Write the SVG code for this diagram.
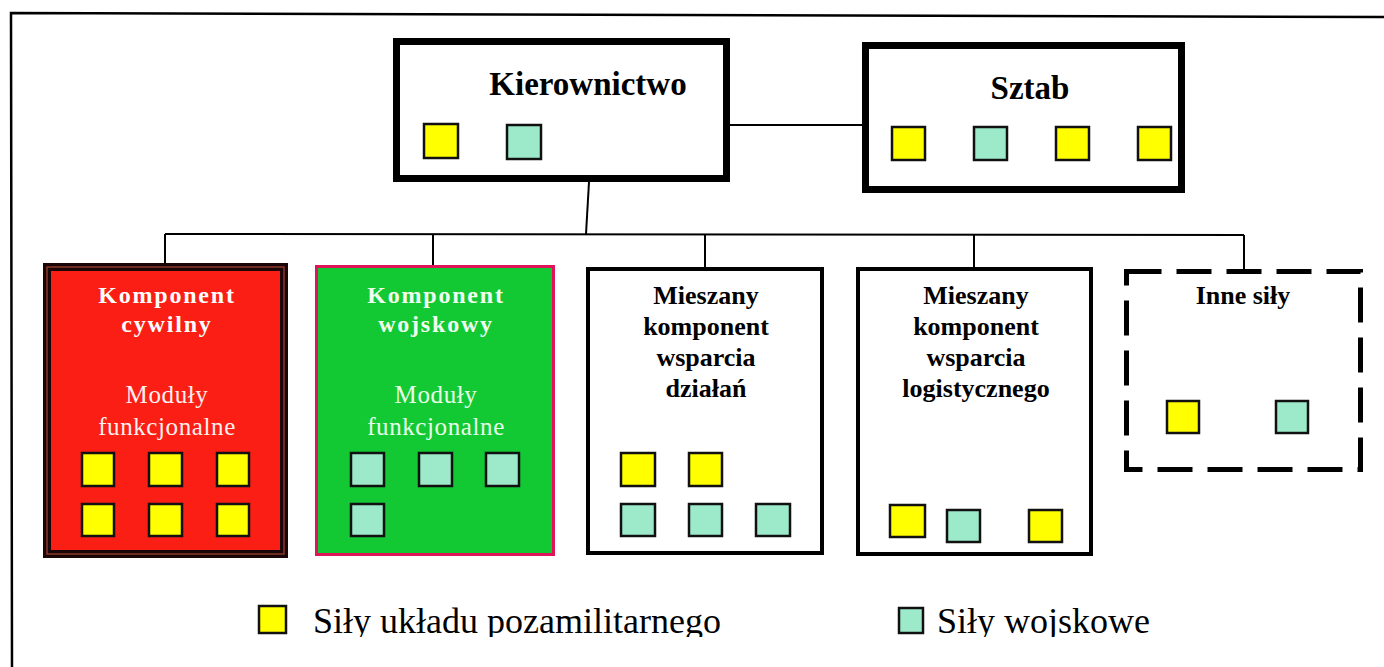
<svg xmlns="http://www.w3.org/2000/svg" width="1384" height="667" viewBox="0 0 1384 667">
  <defs>
    <clipPath id="legendClip">
      <rect x="0" y="590" width="1384" height="47"/>
    </clipPath>
  </defs>
  <style>
    .title { font-family: "Liberation Serif", "Times New Roman", serif; font-weight: bold; fill: #000; text-anchor: middle; }
    .big { font-size: 33px; }
    .mid { font-size: 26px; }
    .comp { font-family: "Liberation Serif", "Times New Roman", serif; font-weight: bold; font-size: 24px; letter-spacing: 1.8px; text-anchor: middle; }
    .mod { font-family: "Liberation Serif", "Times New Roman", serif; font-size: 25px; letter-spacing: 0.6px; text-anchor: middle; }
    .legend { font-family: "Liberation Serif", "Times New Roman", serif; font-size: 36px; fill: #000; }
    .box { fill: #fff; stroke: #000; }
    .y { fill: #ffff00; stroke: #111; stroke-width: 2.5; }
    .t { fill: #9deacb; stroke: #111; stroke-width: 2.5; }
    .link { fill: none; stroke: #000; stroke-width: 2; }
  </style>

  <rect width="1384" height="667" fill="#fff"/>

  <!-- outer frame -->
  <path d="M 12 667 L 11 13 L 1384 17" fill="none" stroke="#000" stroke-width="2.5"/>

  <!-- connectors -->
  <g id="connectors">
    <line class="link" x1="730" y1="125" x2="862" y2="125"/>
    <line class="link" x1="589" y1="182" x2="586" y2="234"/>
    <line class="link" x1="165" y1="234" x2="1244" y2="235"/>
    <line class="link" x1="165" y1="234" x2="165" y2="263"/>
    <line class="link" x1="433" y1="234" x2="433" y2="265"/>
    <line class="link" x1="705" y1="234" x2="705" y2="267"/>
    <line class="link" x1="974" y1="235" x2="974" y2="267"/>
    <line class="link" x1="1244" y1="235" x2="1244" y2="270"/>
  </g>

  <!-- Kierownictwo -->
  <g id="kierownictwo">
    <rect class="box" x="396.5" y="41.5" width="330" height="137" stroke-width="7"/>
    <text class="title big" x="588" y="95">Kierownictwo</text>
    <rect class="y" x="424" y="124" width="34" height="34"/>
    <rect class="t" x="507" y="125" width="34" height="34"/>
  </g>

  <!-- Sztab -->
  <g id="sztab">
    <rect class="box" x="865.5" y="45.5" width="316" height="144" stroke-width="7"/>
    <text class="title big" x="1030" y="99">Sztab</text>
    <rect class="y" x="892" y="127" width="33" height="33"/>
    <rect class="t" x="974" y="127" width="33" height="33"/>
    <rect class="y" x="1056" y="127" width="33" height="33"/>
    <rect class="y" x="1138" y="127" width="33" height="33"/>
  </g>

  <!-- Komponent cywilny -->
  <g id="komponent-cywilny">
    <rect x="47" y="267" width="237" height="287" fill="#fa1e14" stroke="#1a0606" stroke-width="8"/>
    <rect x="47" y="267" width="237" height="287" fill="none" stroke="#8a3a2a" stroke-width="1.5"/>
    <text class="comp" x="167" y="303" fill="#fff">Komponent</text>
    <text class="comp" x="167" y="332" fill="#fff">cywilny</text>
    <text class="mod" x="167" y="403" fill="#fff0ee">Moduły</text>
    <text class="mod" x="167" y="435" fill="#fff0ee">funkcjonalne</text>
    <rect class="y" x="82" y="453" width="32" height="33" stroke-width="3"/>
    <rect class="y" x="149" y="453" width="33" height="33" stroke-width="3"/>
    <rect class="y" x="217" y="453" width="32" height="33" stroke-width="3"/>
    <rect class="y" x="82" y="504" width="32" height="32" stroke-width="3"/>
    <rect class="y" x="149" y="504" width="33" height="32" stroke-width="3"/>
    <rect class="y" x="217" y="504" width="32" height="32" stroke-width="3"/>
  </g>

  <!-- Komponent wojskowy -->
  <g id="komponent-wojskowy">
    <rect x="316.5" y="266.5" width="237" height="288" fill="#12c934" stroke="#e0145a" stroke-width="3"/>
    <text class="comp" x="436" y="303" fill="#f0fff0">Komponent</text>
    <text class="comp" x="436" y="332" fill="#f0fff0">wojskowy</text>
    <text class="mod" x="436" y="403" fill="#e8ffe8">Moduły</text>
    <text class="mod" x="436" y="435" fill="#e8ffe8">funkcjonalne</text>
    <rect class="t" x="351" y="453" width="33" height="33" stroke-width="3"/>
    <rect class="t" x="419" y="453" width="33" height="33" stroke-width="3"/>
    <rect class="t" x="486" y="453" width="33" height="33" stroke-width="3"/>
    <rect class="t" x="351" y="504" width="33" height="32" stroke-width="3"/>
  </g>

  <!-- Mieszany komponent wsparcia działań -->
  <g id="wsparcie-dzialan">
    <rect class="box" x="588" y="269" width="234" height="284" stroke-width="4"/>
    <text class="title mid" x="706" y="304">Mieszany</text>
    <text class="title mid" x="706" y="335">komponent</text>
    <text class="title mid" x="706" y="366">wsparcia</text>
    <text class="title mid" x="706" y="397">działań</text>
    <rect class="y" x="621" y="453" width="34" height="33"/>
    <rect class="y" x="689" y="453" width="33" height="33"/>
    <rect class="t" x="621" y="504" width="34" height="32"/>
    <rect class="t" x="689" y="504" width="33" height="32"/>
    <rect class="t" x="756" y="504" width="34" height="32"/>
  </g>

  <!-- Mieszany komponent wsparcia logistycznego -->
  <g id="wsparcie-logistyczne">
    <rect class="box" x="858" y="269" width="233" height="285" stroke-width="4"/>
    <text class="title mid" x="976" y="304">Mieszany</text>
    <text class="title mid" x="976" y="335">komponent</text>
    <text class="title mid" x="976" y="366">wsparcia</text>
    <text class="title mid" x="976" y="397">logistycznego</text>
    <rect class="y" x="890" y="505" width="35" height="32"/>
    <rect class="t" x="947" y="510" width="33" height="32"/>
    <rect class="y" x="1029" y="510" width="33" height="32"/>
  </g>

  <!-- Inne siły -->
  <g id="inne-sily">
    <rect x="1126.5" y="271.5" width="234" height="198" fill="#fff" stroke="#000" stroke-width="5" stroke-dasharray="35 15"/>
    <text class="title mid" x="1243" y="304">Inne siły</text>
    <rect class="y" x="1167" y="401" width="32" height="32"/>
    <rect class="t" x="1276" y="401" width="32" height="32"/>
  </g>

  <!-- legend -->
  <g id="legend" clip-path="url(#legendClip)">
    <rect class="y" x="259" y="606" width="27" height="27" stroke-width="3"/>
    <text class="legend" x="313" y="633">Siły układu pozamilitarnego</text>
    <rect class="t" x="899" y="608" width="24" height="25" stroke-width="2.5"/>
    <text class="legend" x="937" y="633">Siły wojskowe</text>
  </g>
</svg>
